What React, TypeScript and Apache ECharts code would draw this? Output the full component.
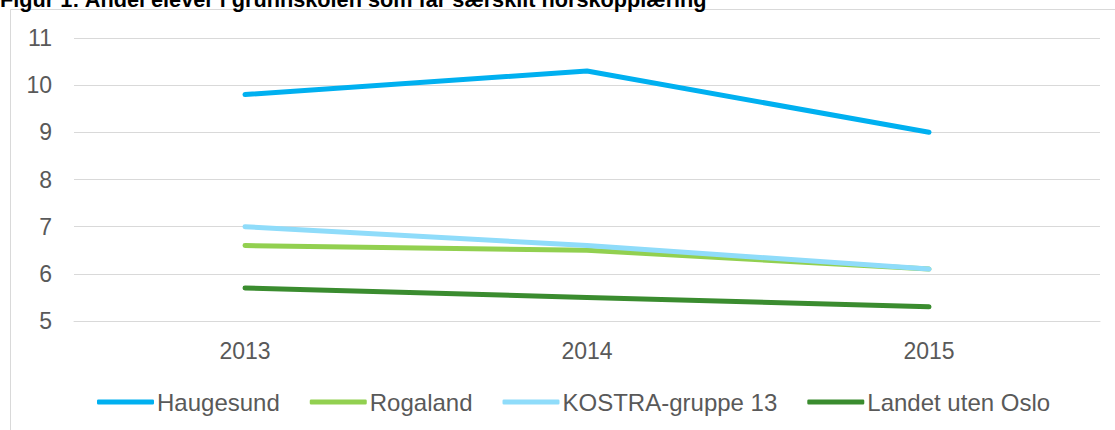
import React, { useEffect, useRef } from "react";
import * as echarts from "echarts";

const years = ["2013", "2014", "2015"];
const haugesund = [9.8, 10.3, 9.0];
const rogaland = [6.6, 6.5, 6.1];
const kostra = [7.0, 6.6, 6.1];
const landet = [5.7, 5.5, 5.3];
const seriesNames = ["Haugesund", "Rogaland", "KOSTRA-gruppe 13", "Landet uten Oslo"];
const colors = ["#00B0F0", "#92D050", "#8FDCFA", "#3A8C2F"];
const titleText = "Figur 1: Andel elever i grunnskolen som får særskilt norskopplæring";

export default function App() {
  const ref = useRef<HTMLDivElement>(null);
  useEffect(() => {
    if (!ref.current) return;
    const chart = echarts.init(ref.current, null, { renderer: "svg" });
    const data = [haugesund, rogaland, kostra, landet];
    chart.setOption({
      animation: false,
      textStyle: { fontFamily: "'Liberation Sans', Arial, sans-serif" },
      graphic: [
        {
          type: "rect",
          shape: { x: 10.5, y: 9.5, width: 1120, height: 440 },
          style: { fill: "none", stroke: "#D9D9D9", lineWidth: 1 },
          silent: true,
        },
        {
          type: "text",
          x: 0,
          y: -12,
          style: {
            text: titleText,
            fill: "#000",
            font: "bold 21.7px 'Liberation Sans', Arial, sans-serif",
          },
        },
      ],
      grid: { left: 74, right: 15, top: 38, height: 283 },
      xAxis: {
        type: "category",
        data: years,
        boundaryGap: true,
        axisLine: { lineStyle: { color: "#D9D9D9" } },
        axisTick: { show: false },
        axisLabel: { color: "#595959", fontSize: 23, margin: 18 },
      },
      yAxis: {
        type: "value",
        min: 5,
        max: 11,
        interval: 1,
        axisLine: { show: false },
        axisTick: { show: false },
        splitLine: { lineStyle: { color: "#D9D9D9", width: 1 } },
        axisLabel: { color: "#595959", fontSize: 23, margin: 22 },
      },
      legend: {
        top: 390,
        left: 97,
        padding: 0,
        itemWidth: 57,
        itemHeight: 5,
        itemGap: 30,
        icon: "roundRect",
        textStyle: { color: "#595959", fontSize: 24, padding: [0, 0, 0, -2] },
        data: seriesNames,
      },
      series: seriesNames.map((name, i) => ({
        name,
        type: "line",
        data: data[i],
        symbol: "none",
        lineStyle: { width: 5, color: colors[i], cap: "round" },
        itemStyle: { color: colors[i] },
      })),
    });
    return () => chart.dispose();
  }, []);
  return (
    <div
      ref={ref}
      style={{ position: "absolute", left: 0, top: 0, width: 1115, height: 430, background: "#fff" }}
    />
  );
}
